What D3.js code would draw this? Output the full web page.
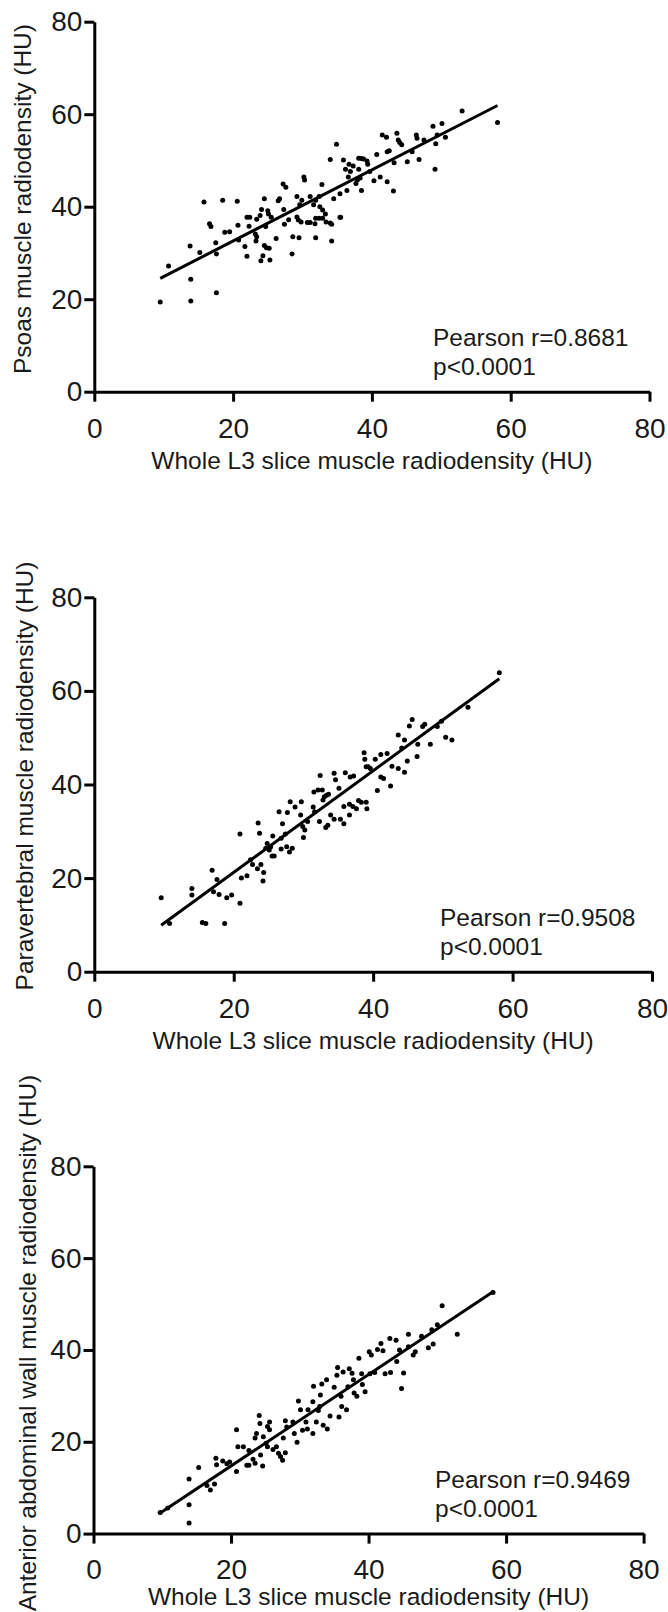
<!DOCTYPE html>
<html>
<head>
<meta charset="utf-8">
<script src="https://cdn.jsdelivr.net/npm/d3@7"></script>
<style>
  body { margin: 0; background: #fff; }
  svg { display: block; }
  .axis path, .axis line { stroke: #000; stroke-width: 3; }
  text { font-family: 'Liberation Sans', Arial, Helvetica, sans-serif; fill: #1a1a1a; }
</style>
</head>
<body>
<svg class="chart"></svg>
<script>
//DATA, [whole L3, muscle] in HU
const psoasPts = [
  [9.5,19.4],[10.7,27.2],[13.8,31.5],[13.9,24.3],[13.9,19.6],[15.2,30.1],[15.8,41.0],[16.6,36.3],[16.8,35.7],
  [17.5,32.2],[17.6,29.8],[17.6,21.4],[18.5,41.4],[18.8,34.5],[19.5,34.6],[20.6,41.2],[20.7,36.0],[20.8,32.8],
  [21.7,31.4],[22.0,29.3],[22.0,37.7],[22.4,37.7],[22.3,35.8],[23.2,34.1],[23.3,32.6],[23.4,33.5],[23.4,37.3],
  [23.9,38.1],[24.1,39.4],[24.3,29.4],[24.0,28.3],[24.5,41.7],[24.5,31.6],[24.8,31.1],[25.2,31.0],[24.7,35.7],
  [25.0,39.1],[25.1,38.4],[25.3,28.5],[25.5,37.7],[26.2,33.1],[26.5,41.3],[26.7,41.7],[27.2,44.9],[27.6,44.2],
  [27.3,39.4],[27.4,36.2],[28.0,37.2],[28.6,33.5],[28.5,29.8],[29.2,42.2],[30.2,46.4],[30.3,45.8],[29.9,41.4],
  [29.6,40.4],[29.2,37.8],[29.4,37.1],[29.8,36.7],[29.5,33.3],[31.1,42.2],[31.6,40.4],[31.9,41.4],[32.4,42.2],
  [32.8,44.8],[32.5,40.0],[32.9,39.3],[31.9,37.5],[31.1,36.6],[31.8,36.3],[32.9,37.5],[33.3,38.4],[33.4,36.7],
  [34.0,36.5],[34.2,36.2],[31.9,33.3],[34.2,32.6],[34.5,41.7],[35.4,42.8],[35.4,37.7],[34.0,50.2],[34.9,53.5],
  [35.9,50.1],[36.2,48.1],[36.4,43.5],[36.7,49.2],[36.9,47.6],[38.1,50.5],[38.5,50.4],[38.8,50.3],[37.3,48.8],
  [38.1,48.1],[36.6,46.4],[37.9,45.8],[38.3,46.2],[37.7,45.0],[38.5,43.5],[39.3,49.9],[39.4,49.2],[39.7,47.6],
  [40.3,45.6],[40.7,51.3],[41.2,46.4],[42.2,45.4],[43.1,43.4],[43.2,49.5],[41.5,55.5],[42.1,55.0],[42.2,51.9],
  [42.5,52.1],[43.6,55.9],[43.8,54.4],[44.0,53.9],[44.3,53.4],[45.1,49.7],[45.8,51.9],[46.4,55.5],[46.5,54.8],
  [46.8,50.2],[47.5,54.4],[48.8,57.4],[49.1,48.1],[49.4,55.5],[49.2,53.6],[50.1,58.0],[50.6,55.0],[53.0,60.7],
  [58.1,58.2],[30.7,36.6],[32.4,37.5],[35.5,37.7]
];
const paraPts = [
  [9.6,15.8],[10.8,10.3],[14.0,17.8],[14.0,16.4],[15.5,10.5],[16.0,10.3],[16.9,21.7],[17.6,19.7],[17.1,17.1],
  [17.9,16.5],[18.7,10.3],[19.0,15.8],[19.7,16.4],[20.9,14.6],[20.9,29.4],[21.1,20.0],[21.9,20.5],[22.4,23.9],
  [22.7,22.9],[23.5,31.8],[23.7,29.6],[23.4,22.0],[23.9,22.9],[24.3,21.2],[24.2,19.4],[24.8,27.4],[24.6,26.4],
  [25.1,26.0],[25.3,26.7],[25.6,29.0],[25.5,24.7],[25.8,24.7],[26.5,34.2],[27.0,31.6],[26.8,26.2],[27.7,34.0],
  [27.6,26.7],[28.1,36.3],[28.0,25.6],[27.4,29.4],[26.8,28.5],[28.4,26.4],[28.8,35.2],[29.7,36.3],[29.6,33.5],
  [29.9,31.0],[30.2,30.3],[30.0,28.7],[30.6,32.1],[31.4,35.2],[31.6,34.2],[31.5,38.4],[32.4,41.9],[32.1,38.8],
  [32.7,38.8],[33.0,37.4],[33.3,37.7],[33.6,37.9],[32.8,36.7],[32.3,32.1],[33.2,30.8],[33.5,31.3],[33.9,33.5],
  [34.4,32.6],[34.4,42.4],[34.6,41.0],[35.1,39.2],[35.3,32.6],[35.8,31.6],[35.8,35.3],[36.0,42.5],[36.7,41.6],
  [37.2,41.8],[36.6,35.8],[37.1,35.3],[36.6,33.5],[37.6,34.8],[37.9,36.6],[38.3,36.2],[38.7,46.8],[38.8,45.4],
  [39.0,43.8],[39.3,43.8],[39.6,43.4],[39.0,36.2],[39.1,34.8],[40.3,45.4],[41.1,46.4],[42.0,46.6],[41.1,41.6],
  [41.5,41.3],[40.6,38.7],[42.5,39.7],[42.7,43.9],[43.6,43.4],[43.6,50.6],[44.1,47.8],[44.5,49.5],[44.9,45.0],
  [44.5,42.6],[45.2,52.5],[45.6,53.9],[46.3,46.0],[46.4,48.6],[47.1,52.4],[47.4,52.9],[48.2,48.6],[49.2,52.4],
  [49.8,53.5],[50.4,50.1],[51.3,49.5],[53.6,56.5],[58.1,63.9]
];
const abdoPts = [
  [9.7,4.6],[10.8,5.6],[13.9,11.9],[13.9,6.3],[13.9,2.3],[15.3,14.4],[16.5,10.5],[17.0,9.5],[17.6,10.8],
  [17.8,16.4],[17.9,15.0],[18.8,15.8],[19.4,15.2],[19.8,15.6],[20.8,22.6],[20.8,13.5],[21.0,18.9],[21.8,18.9],
  [22.3,14.9],[22.6,14.9],[22.6,18.1],[23.2,16.2],[23.5,15.3],[23.5,20.8],[23.7,21.8],[24.1,25.7],[24.2,24.0],
  [24.3,17.1],[24.6,14.7],[24.7,21.1],[25.1,19.7],[25.3,18.9],[25.3,23.3],[25.6,22.6],[25.6,24.3],[26.1,18.3],
  [26.6,18.9],[26.9,17.5],[27.5,16.0],[27.6,20.8],[27.9,24.6],[28.1,23.2],[27.9,17.6],[29.2,21.8],[29.0,24.3],
  [29.6,19.9],[29.8,28.9],[30.1,27.0],[30.4,22.5],[30.9,24.3],[31.1,22.8],[31.2,27.0],[31.9,28.7],[32.0,32.1],
  [31.9,21.8],[32.4,24.3],[32.7,26.8],[33.0,30.2],[32.9,27.7],[33.2,32.6],[33.4,23.6],[34.0,22.8],[33.9,33.5],
  [34.4,25.6],[35.0,31.9],[35.5,36.2],[35.4,34.5],[35.7,25.4],[36.1,27.7],[36.0,29.9],[36.3,35.2],[36.8,27.0],
  [37.2,35.9],[37.0,32.0],[37.6,34.9],[37.8,33.5],[37.9,30.6],[38.3,29.9],[38.6,38.2],[39.0,34.8],[39.1,32.5],
  [39.5,30.9],[40.1,39.6],[40.4,38.9],[40.2,34.8],[40.9,35.1],[41.3,40.1],[41.8,41.4],[42.1,39.8],[42.4,34.8],
  [43.2,35.1],[43.1,42.5],[44.0,42.1],[44.1,37.5],[44.5,40.0],[44.8,31.6],[45.1,35.0],[45.8,43.4],[45.8,40.7],
  [46.5,38.9],[46.8,39.6],[47.7,43.0],[48.7,40.5],[49.2,44.4],[49.4,41.3],[50.0,45.5],[50.7,49.6],[52.9,43.4],
  [58.1,52.5],[27.2,16.8]
];
// regression lines [intercept, slope]
const psoasFit = [17.2, 0.769];
const paraFit = [-0.5, 1.086];
const abdoFit = [-5.2, 0.996];

const ticks = [0, 20, 40, 60, 80];
const xTitle = 'Whole L3 slice muscle radiodensity (HU)';
const yTitles = ['Psoas muscle radiodensity (HU)', 'Paravertebral muscle radiodensity (HU)',
  'Anterior abdominal wall muscle radiodensity (HU)'];
const rLabels = ['Pearson r=0.8681', 'Pearson r=0.9508', 'Pearson r=0.9469'];
const pLabel = 'p<0.0001';

//INITIALIZING CANVAS
const size = {w: 668, h: 1612};
const svg = d3.select('svg.chart').attr('width', size.w).attr('height', size.h);

const panels = [
  {pts: psoasPts, fit: psoasFit, x: [94.3, 649.5], y: [391.7, 21.7], yt: {x: 31, y: 199}, txt: 433, xt: 77},
  {pts: paraPts, fit: paraFit, x: [94.3, 652], y: [971.7, 597.3], yt: {x: 33, y: 776}, txt: 440, xt: 77},
  {pts: abdoPts, fit: abdoFit, x: [93.5, 643.6], y: [1533.6, 1166.3], yt: {x: 36, y: 1343}, txt: 435, xt: 71}
];

panels.forEach((p, i) => {
  const xs = d3.scaleLinear().domain([0, 80]).range(p.x);
  const ys = d3.scaleLinear().domain([0, 80]).range(p.y);
  const g = svg.append('g');

  //AXES
  g.append('g')
    .attr('class', 'axis')
    .attr('transform', `translate(0,${p.y[0]})`)
    .call(d3.axisBottom(xs).tickValues(ticks).tickSize(10).tickSizeOuter(0).tickPadding(16))
    .call(a => a.selectAll('text').attr('font-size', 28).attr('font-family', null));

  g.append('g')
    .attr('class', 'axis')
    .attr('transform', `translate(${p.x[0]},0)`)
    .call(d3.axisLeft(ys).tickValues(ticks).tickSize(10).tickSizeOuter(0).tickPadding(2))
    .call(a => a.selectAll('text').attr('font-size', 28).attr('font-family', null));

  //REGRESSION LINE
  const ext = d3.extent(p.pts, d => d[0]);
  g.append('line')
    .attr('x1', xs(ext[0])).attr('y1', ys(p.fit[0] + p.fit[1] * ext[0]))
    .attr('x2', xs(ext[1])).attr('y2', ys(p.fit[0] + p.fit[1] * ext[1]))
    .attr('stroke', '#000').attr('stroke-width', 3);

  //POINTS
  g.selectAll('circle')
    .data(p.pts)
    .enter()
    .append('circle')
    .attr('cx', d => xs(d[0]))
    .attr('cy', d => ys(d[1]))
    .attr('r', 2.5)
    .attr('fill', '#000');

  //TEXTS
  g.append('text')
    .attr('x', p.txt).attr('y', p.y[0] - 46)
    .attr('font-size', 24.5)
    .text(rLabels[i]);
  g.append('text')
    .attr('x', p.txt).attr('y', p.y[0] - 17)
    .attr('font-size', 24.5)
    .text(pLabel);

  g.append('text')
    .attr('x', (p.x[0] + p.x[1]) / 2).attr('y', p.y[0] + p.xt)
    .attr('text-anchor', 'middle')
    .attr('font-size', 24.5)
    .text(xTitle);

  g.append('text')
    .attr('transform', `translate(${p.yt.x},${p.yt.y}) rotate(-90)`)
    .attr('text-anchor', 'middle')
    .attr('font-size', 24.5)
    .text(yTitles[i]);
});
</script>
</body>
</html>
